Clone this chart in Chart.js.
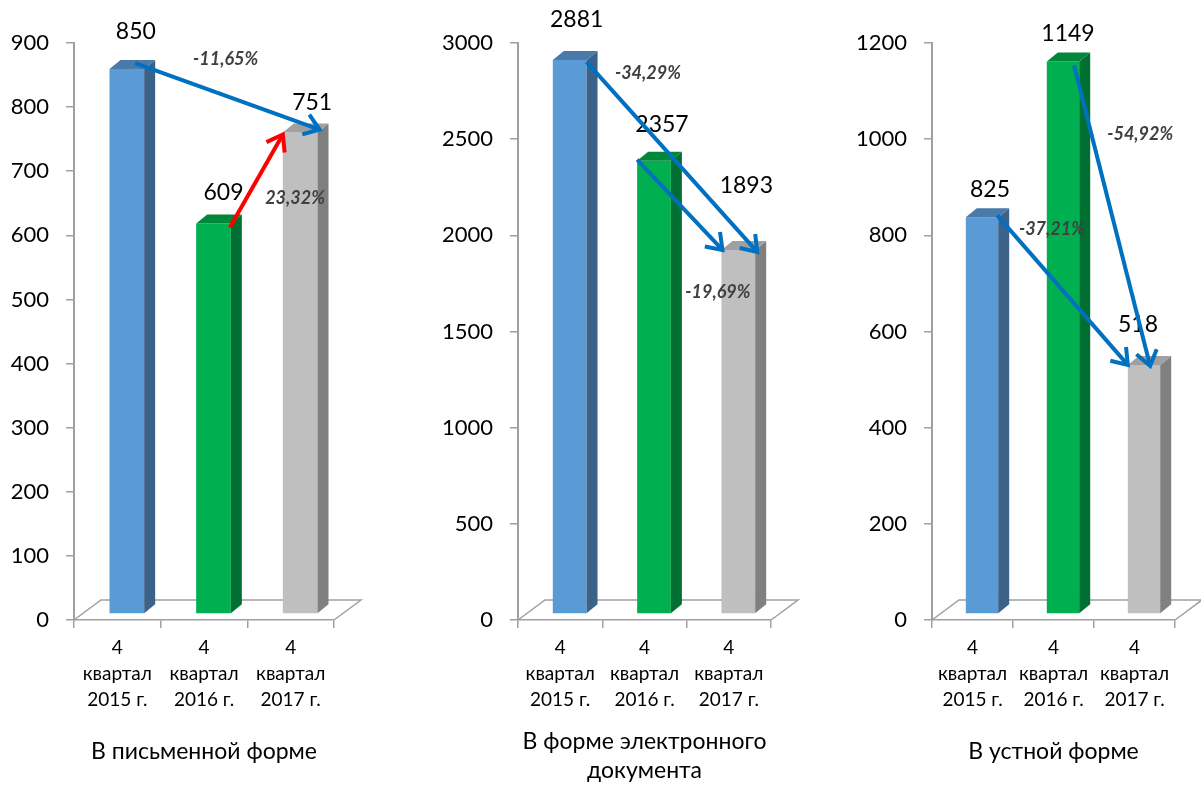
<!DOCTYPE html>
<html>
<head>
<meta charset="utf-8">
<script src="https://cdn.jsdelivr.net/npm/chart.js@4.4.0/dist/chart.umd.min.js"></script>
<style>
  body { margin: 0; background: #fff; }
  #wrap { display: flex; width: 1201px; height: 785px; }
  .panel { position: relative; height: 785px; }
</style>
</head>
<body>
<div id="wrap">
  <div class="panel" style="width:400px"><canvas id="c0"></canvas></div>
  <div class="panel" style="width:400px"><canvas id="c1"></canvas></div>
  <div class="panel" style="width:401px"><canvas id="c2"></canvas></div>
</div>
<script>
// Categories (multi-line x labels)
const categories = [
    ["4", "квартал", "2015 г."],
    ["4", "квартал", "2016 г."],
    ["4", "квартал", "2017 г."]
];

// Values for each panel
const writtenValues = [850, 609, 751];
const electronicValues = [2881, 2357, 1893];
const oralValues = [825, 1149, 518];

// Panel titles
const panelTitles = [
    "В письменной форме",
    ["В форме электронного", "документа"],
    "В устной форме"
];

// Y axis ranges
const yMaxes = [900, 3000, 1200];
const ySteps = [100, 500, 200];

// Arrows: [from index, to index]
const arrowPairs = [[0, 2], [1, 2]];

const FONT = 'Lato, "Open Sans", sans-serif';
const AXIS = "#A0A0A0";
const BLUE = "#0070C0";
const RED = "#FF0000";

const frontColors = ["#5B9BD5", "#00B050", "#BFBFBF"];
const sideColors = ["#3B6288", "#006F31", "#808080"];
const topColors = ["#4A7AAA", "#00883A", "#A0A0A0"];

// 3D depth of bars and floor
const BAR_DX = 9.5, BAR_DY = 6;
const DEPTH_X = 11, DEPTH_Y = 9;
const FLOOR_DX = 27, FLOOR_DY = 20;

// Layout / annotation styling per panel
const panelLayout = [
    {
        axisX: 74, right: 334, width: 400, titlePad: 19,
        labelShift: [[9, -37], [10, -31], [12, -30]],
        arrows: [
            { color: BLUE, s: [0.74, -6], e: [1.06, -3], pct: [1.25, 874] },
            { color: RED, s: [0.97, 4], e: [0, 2], pct: [2.05, 658] }
        ]
    },
    {
        axisX: 118, right: 371, width: 400, titlePad: 0,
        labelShift: [[7, -40], [8, -36], [8, -64]],
        arrows: [
            { color: BLUE, s: [1.0, 2], e: [1.06, 2], pct: [1.04, 2845] },
            { color: BLUE, s: [0, -1], e: [0.03, 0], pct: [1.87, 1706] }
        ]
    },
    {
        axisX: 132, right: 375, width: 401, titlePad: 19,
        labelShift: [[8, -28], [5, -28], [-6, -40]],
        arrows: [
            { color: BLUE, s: [0.97, -2], e: [0, 0], pct: [0.98, 813] },
            { color: BLUE, s: [0.84, 4], e: [0.69, 1], pct: [2.07, 1010] }
        ]
    }
];

const panelValues = [writtenValues, electronicValues, oralValues];

const drawArrow = (ctx, x1, y1, x2, y2, color) => {
    ctx.save();
    ctx.strokeStyle = color;
    ctx.lineWidth = 4;
    ctx.lineJoin = "miter";
    ctx.beginPath();
    ctx.moveTo(x1, y1);
    ctx.lineTo(x2, y2);
    ctx.stroke();
    const a = Math.atan2(y2 - y1, x2 - x1), h = 18, sp = 0.62;
    ctx.beginPath();
    ctx.moveTo(x2 - h * Math.cos(a - sp), y2 - h * Math.sin(a - sp));
    ctx.lineTo(x2, y2);
    ctx.lineTo(x2 - h * Math.cos(a + sp), y2 - h * Math.sin(a + sp));
    ctx.stroke();
    ctx.restore();
};

const fmtPct = (a, b) => ((b - a) / a * 100).toFixed(2).replace(".", ",") + "%";

// Plugin: floor, 3D faces, labels, arrows
const threeD = {
    id: "threeD",
    beforeDatasetsDraw(chart) {
        const { ctx, chartArea: a } = chart;
        ctx.save();
        ctx.strokeStyle = AXIS;
        ctx.lineWidth = 1.5;
        ctx.beginPath();
        ctx.moveTo(a.left, a.bottom);
        ctx.lineTo(a.left + FLOOR_DX, a.bottom - FLOOR_DY);
        ctx.lineTo(a.right + FLOOR_DX, a.bottom - FLOOR_DY);
        ctx.lineTo(a.right, a.bottom);
        ctx.stroke();
        ctx.restore();
        ctx.save();
        ctx.translate(BAR_DX, -BAR_DY);
    },
    afterDatasetsDraw(chart) {
        const ctx = chart.ctx;
        const p = chart.options.plugins.threeD;
        const lay = panelLayout[p.panel];
        const values = panelValues[p.panel];
        const bars = chart.getDatasetMeta(0).data.map(b => b.getProps(["x", "y", "base", "width"], true));

        bars.forEach((b, i) => {
            const l = b.x - b.width / 2, r = b.x + b.width / 2;
            ctx.fillStyle = sideColors[i];
            ctx.beginPath();
            ctx.moveTo(r, b.y);
            ctx.lineTo(r + DEPTH_X, b.y - DEPTH_Y);
            ctx.lineTo(r + DEPTH_X, b.base - DEPTH_Y);
            ctx.lineTo(r, b.base);
            ctx.closePath();
            ctx.fill();
            ctx.fillStyle = topColors[i];
            ctx.beginPath();
            ctx.moveTo(l, b.y);
            ctx.lineTo(l + DEPTH_X, b.y - DEPTH_Y);
            ctx.lineTo(r + DEPTH_X, b.y - DEPTH_Y);
            ctx.lineTo(r, b.y);
            ctx.closePath();
            ctx.fill();
        });

        // value labels
        ctx.fillStyle = "#000";
        ctx.font = "23px " + FONT;
        ctx.textAlign = "center";
        ctx.textBaseline = "middle";
        bars.forEach((b, i) => {
            const [dx, dy] = lay.labelShift[i];
            ctx.fillText(String(values[i]), b.x + dx, b.y + dy);
        });

        // arrows
        arrowPairs.forEach(([from, to], k) => {
            const ar = lay.arrows[k];
            const s = bars[from], e = bars[to];
            const x1 = s.x - s.width / 2 + ar.s[0] * s.width, y1 = s.y + ar.s[1];
            const x2 = e.x - e.width / 2 + ar.e[0] * e.width, y2 = e.y + ar.e[1];
            drawArrow(ctx, x1, y1, x2, y2, ar.color);
        });
        ctx.restore();

        // percent labels
        const xs = chart.scales.x, ys = chart.scales.y;
        ctx.save();
        ctx.fillStyle = "#404040";
        ctx.font = "italic bold 18px " + FONT;
        ctx.textAlign = "center";
        ctx.textBaseline = "middle";
        arrowPairs.forEach(([from, to], k) => {
            const [ci, v] = lay.arrows[k].pct;
            ctx.fillText(fmtPct(values[from], values[to]), xs.getPixelForValue(ci), ys.getPixelForValue(v));
        });
        ctx.restore();
    }
};

panelValues.forEach((values, n) => {
    const lay = panelLayout[n];
    new Chart(document.getElementById("c" + n), {
        type: "bar",
        plugins: [threeD],
        data: {
            labels: categories,
            datasets: [{
                data: values,
                backgroundColor: frontColors,
                borderWidth: 0,
                barPercentage: 0.4,
                categoryPercentage: 1
            }]
        },
        options: {
            responsive: true,
            maintainAspectRatio: false,
            animation: false,
            layout: { padding: { left: 0, right: lay.width - lay.right, top: 43, bottom: 0 } },
            plugins: {
                legend: { display: false },
                tooltip: { enabled: false },
                threeD: { panel: n }
            },
            scales: {
                x: {
                    grid: { drawOnChartArea: false, tickLength: 8, color: AXIS, lineWidth: 1.5, offset: true },
                    border: { color: AXIS, width: 1.5 },
                    ticks: {
                        font: { family: FONT, size: 19, lineHeight: 1.37 },
                        color: "#000", padding: 7, maxRotation: 0, autoSkip: false
                    },
                    title: {
                        display: true,
                        text: panelTitles[n],
                        color: "#000",
                        font: { family: FONT, size: 23, lineHeight: 1.26 },
                        padding: { top: 0, bottom: lay.titlePad }
                    },
                    afterFit(s) { s.height = 165; s.paddingLeft = 0; s.paddingRight = 0; }
                },
                y: {
                    min: 0,
                    max: yMaxes[n],
                    ticks: {
                        stepSize: ySteps[n],
                        font: { family: FONT, size: 22 },
                        color: "#000",
                        padding: 17,
                        callback: v => String(v)
                    },
                    grid: { drawOnChartArea: false, tickLength: 8, color: AXIS, lineWidth: 1.5 },
                    border: { color: AXIS, width: 2 },
                    afterFit(s) { s.width = lay.axisX; s.paddingTop = 0; s.paddingBottom = 0; }
                }
            }
        }
    });
});
</script>
</body>
</html>
